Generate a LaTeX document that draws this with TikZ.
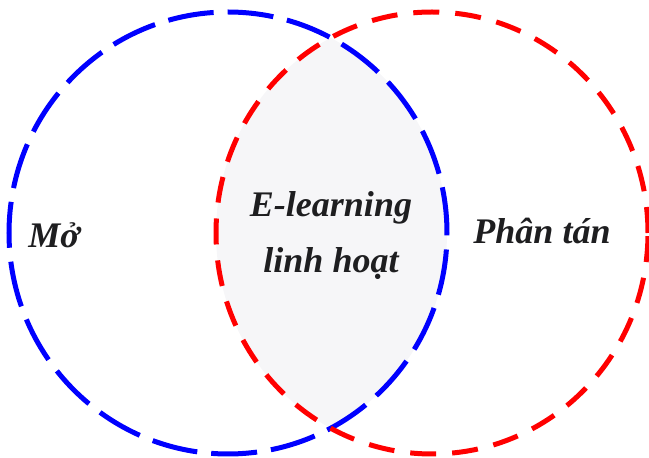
\documentclass[tikz,border=0pt]{standalone}
\usepackage{fontspec}
\setmainfont{Liberation Serif}
\usepackage{xcolor}
\usepackage{tikz}
\usetikzlibrary{positioning}

\definecolor{chu}{RGB}{30,30,32}
\definecolor{nen}{RGB}{246,246,248}

\begin{document}
\begin{tikzpicture}[x=1pt, y=1pt,
    vongxanh/.style={draw=blue, line width=5pt, dash pattern=on 46pt off 14pt},
    vongdo/.style={draw=red, line width=5pt, dash pattern=on 26pt off 16pt},
    nhan/.style={font=\fontsize{36}{40}\selectfont\bfseries\itshape, text=chu, align=center}]
    \useasboundingbox (0,0) rectangle (649,458);

    % Tâm hai vòng tròn
    \coordinate (A) at (228,225);
    \coordinate (B) at (432,225);

    % Phần giao nhau
    \begin{scope}
        \clip (A) ellipse [x radius=219, y radius=221];
        \fill[nen] (B) ellipse [x radius=216, y radius=221];
    \end{scope}

    % Vẽ hai vòng tròn
    \draw[vongxanh] (A) ellipse [x radius=219, y radius=221];
    \draw[vongdo] (B) ellipse [x radius=216, y radius=221];

    % Các nhãn
    \node[nhan] (mo) at (54,223) {Mở};
    \node[nhan] (elearn) at (331,250) {E-learning};
    \node[nhan, below=16pt of elearn] (linhhoat) {linh hoạt};
    \node[nhan] (phantan) at (542,227) {Phân tán};
\end{tikzpicture}
\end{document}
